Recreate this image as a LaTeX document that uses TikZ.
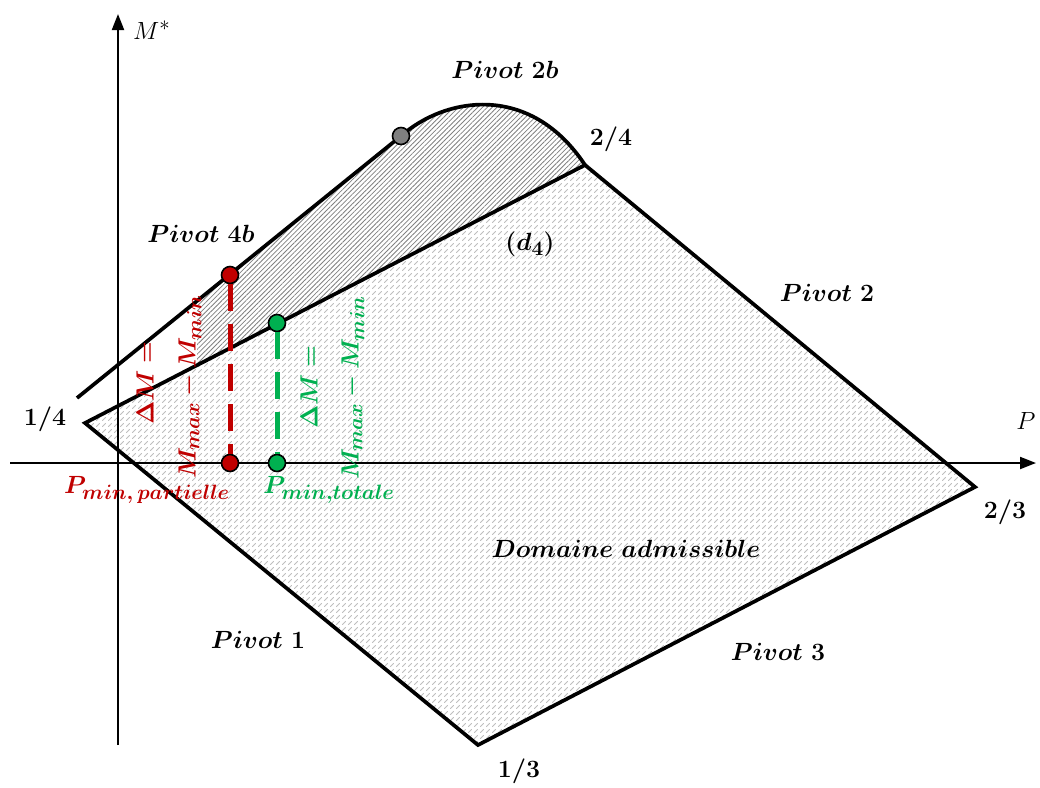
\documentclass[tikz,border=0pt]{standalone}
\usepackage{bm}
\DeclareMathSizes{27}{27}{20}{15}
\usetikzlibrary{patterns,patterns.meta,arrows.meta}
\definecolor{myred}{RGB}{192,0,0}
\definecolor{mygreen}{RGB}{0,176,80}
\definecolor{mygray}{RGB}{128,128,128}
\pgfdeclarepatternformonly{dashhatch}{\pgfqpoint{-1pt}{-1pt}}{\pgfqpoint{7pt}{7pt}}{\pgfqpoint{6pt}{6pt}}{%
  \pgfsetlinewidth{0.9pt}\pgfsetroundcap
  \pgfpathmoveto{\pgfqpoint{0.5pt}{0.5pt}}\pgfpathlineto{\pgfqpoint{3.5pt}{3.5pt}}\pgfusepath{stroke}}
\tikzset{
  axis/.style={line width=2pt, -{Triangle[length=16pt,width=12pt]}},
  bound/.style={line width=3.7pt, line join=miter},
  dot/.style={circle, draw=black, line width=1.6pt, minimum size=17pt, inner sep=0pt},
  lbl/.style={font=\fontsize{27}{32}\selectfont, inner sep=1pt},
  numlbl/.style={font=\fontsize{29}{34}\selectfont, inner sep=1pt},
  axlbl/.style={font=\fontsize{30}{36}\selectfont, inner sep=1pt},
  vdash/.style={line width=5pt, dash pattern=on 27pt off 13pt},
}
\begin{document}
\begin{tikzpicture}[x=1pt,y=-1pt]
\useasboundingbox (0,0) rectangle (1040,787);
% key points
\coordinate (v14) at (85,423);
\coordinate (v24) at (585,165);
\coordinate (v23) at (975,487);
\coordinate (v13) at (478,745);
\coordinate (u0) at (77,398);
\coordinate (gc) at (401,136);
\coordinate (rc) at (230,275);
\coordinate (rb) at (230,463);
\coordinate (gcu) at (277,323);
\coordinate (gb) at (277,463);
\coordinate (hu) at (197,302);
\coordinate (hl) at (197,365);
% hatched areas
\fill[pattern=dashhatch, pattern color=black!25] (v14) -- (v13) -- (v23) -- (v24) -- cycle;
\fill[pattern={Lines[angle=45,distance=3.4pt,line width=0.8pt]}, pattern color=black!50]
  (hl) -- (hu) -- (gc) .. controls (445,97) and (530,82) .. (v24) -- cycle;
% axes
\coordinate (ya) at (118,745);
\coordinate (yb) at (118,14);
\coordinate (xa) at (10,463);
\coordinate (xb) at (1036,463);
\draw[axis] (ya) -- (yb);
\draw[axis] (xa) -- (xb);
% boundaries
\draw[bound] (v24) -- (v14) -- (v13) -- (v23) -- cycle;
\draw[bound] (u0) -- (gc) .. controls (445,97) and (530,82) .. (v24);
% dots
\node[dot, fill=myred] (r1) at (rc) {};
\node[dot, fill=myred] (r2) at (rb) {};
\node[dot, fill=mygreen] (g1) at (gcu) {};
\node[dot, fill=mygreen] (g2) at (gb) {};
\node[dot, fill=mygray] (gd) at (gc) {};
\draw[vdash, myred] (r1.south) -- (r2.north);
\draw[vdash, mygreen] (g1.south) -- (g2.north);
% labels
\node[axlbl, anchor=west] (lM) at (132,30) {$M^{*}$};
\node[axlbl] (lP) at (1026,421) {$P$};
\node[lbl] (l2b) at (505,70) {$\bm{Pivot\ 2b}$};
\node[numlbl] (l24) at (611,139) {$\bm{2/4}$};
\node[lbl] (l4b) at (201,234) {$\bm{Pivot\ 4b}$};
\node[lbl] (ld4) at (530,244) {$\bm{(d_4)}$};
\node[lbl] (lp2) at (827,293) {$\bm{Pivot\ 2}$};
\node[numlbl] (l14) at (45,419) {$\bm{1/4}$};
\node[numlbl] (l23) at (1005,512) {$\bm{2/3}$};
\node[lbl] (ldom) at (626,549) {$\bm{Domaine\ admissible}$};
\node[lbl] (lp1) at (258,640) {$\bm{Pivot\ 1}$};
\node[lbl] (lp3) at (778,652) {$\bm{Pivot\ 3}$};
\node[numlbl] (l13) at (519,771) {$\bm{1/3}$};
\node[lbl, text=myred] (lpp) at (147,490) {$\bm{P_{min,\,partielle}}$};
\node[lbl, text=mygreen] (lpt) at (329,490) {$\bm{P_{min,totale}}$};
\node[lbl, text=myred, rotate=90] (rd1) at (145,383) {$\bm{\Delta M =}$};
\node[lbl, text=myred, rotate=90] (rd2) at (190,387) {$\bm{M_{max} - M_{min}}$};
\node[lbl, text=mygreen, rotate=90] (gd1) at (309,387) {$\bm{\Delta M =}$};
\node[lbl, text=mygreen, rotate=90] (gd2) at (353,388) {$\bm{M_{max} - M_{min}}$};
\end{tikzpicture}
\end{document}
